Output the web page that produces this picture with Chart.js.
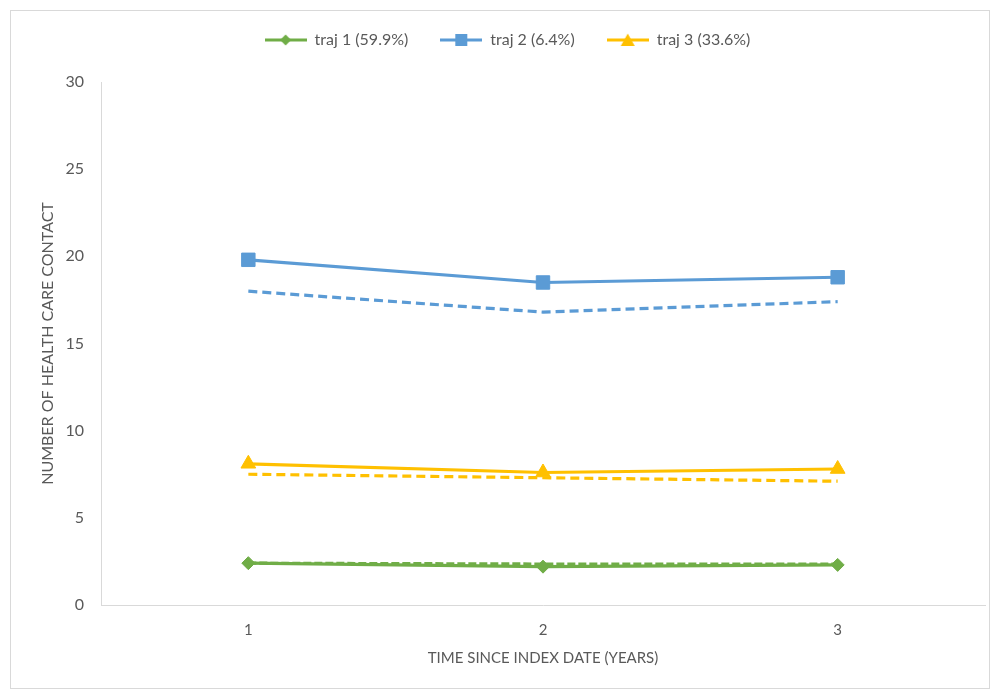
<!DOCTYPE html>
<html>
<head>
<meta charset="utf-8">
<title>Health care contacts by trajectory</title>
<script src="https://cdn.jsdelivr.net/npm/chart.js@4.4.1/dist/chart.umd.min.js"></script>
<style>
  html, body { margin: 0; padding: 0; background: #ffffff; }
  #wrap { position: relative; width: 999px; height: 690px; }
</style>
</head>
<body>
<div id="wrap"><canvas id="chart" width="999" height="690"></canvas></div>
<script>
// Years since index date
const years = ['1', '2', '3'];

// Observed trajectories (solid lines with markers)
const traj1Observed = [2.4, 2.2, 2.3];
const traj2Observed = [19.8, 18.5, 18.8];
const traj3Observed = [8.1, 7.6, 7.8];

// Predicted trajectories (dashed lines)
const traj1Predicted = [2.4, 2.35, 2.35];
const traj2Predicted = [18.0, 16.8, 17.4];
const traj3Predicted = [7.5, 7.3, 7.1];

const legendNames = ['traj 1 (59.9%)', 'traj 2 (6.4%)', 'traj 3 (33.6%)'];
const yTicks = [0, 5, 10, 15, 20, 25, 30];

const GREEN = '#70AD47';
const BLUE = '#5B9BD5';
const GOLD = '#FFC000';
const TEXT = '#595959';
const AXIS = '#D9D9D9';
const FONT = 'Lato, "Open Sans", sans-serif';

// Small legend swatch: a line with the series marker in its middle
function swatch(color, shape) {
  const c = document.createElement('canvas');
  c.width = 42; c.height = 16;
  const g = c.getContext('2d');
  g.strokeStyle = color; g.lineWidth = 3;
  g.beginPath(); g.moveTo(0, 8); g.lineTo(42, 8); g.stroke();
  g.fillStyle = color;
  g.beginPath();
  if (shape === 'diamond') {
    g.moveTo(21, 2.5); g.lineTo(26.5, 8); g.lineTo(21, 13.5); g.lineTo(15.5, 8);
  } else if (shape === 'square') {
    g.rect(15, 2, 12, 12);
  } else {
    g.moveTo(21, 1.5); g.lineTo(28, 14); g.lineTo(14, 14);
  }
  g.closePath(); g.fill();
  return c;
}
const swatches = [swatch(GREEN, 'diamond'), swatch(BLUE, 'square'), swatch(GOLD, 'triangle')];

function solid(label, data, color, style, radius) {
  return {
    label, data,
    borderColor: color, backgroundColor: color,
    borderWidth: 3.2,
    pointStyle: style, pointRadius: radius, pointBorderWidth: 1,
    pointBorderColor: color, pointBackgroundColor: color,
    tension: 0, fill: false
  };
}
function dashed(label, data, color, dash) {
  return {
    label, data,
    borderColor: color, backgroundColor: color,
    borderWidth: 3.2, borderDash: dash,
    pointRadius: 0, tension: 0, fill: false
  };
}

// White background and thin outer frame
const frame = {
  id: 'frame',
  beforeDraw(chart) {
    const ctx = chart.ctx;
    ctx.save();
    ctx.fillStyle = '#ffffff';
    ctx.fillRect(0, 0, chart.width, chart.height);
    ctx.strokeStyle = '#D9D9D9';
    ctx.lineWidth = 1;
    ctx.strokeRect(10.5, 10.5, 979, 678);
    ctx.restore();
  }
};

// Extra room below the legend row
const legendGap = {
  id: 'legendGap',
  afterInit(chart) {
    const lg = chart.legend;
    if (!lg) return;
    const fit = lg.fit.bind(lg);
    lg.fit = function () { fit(); this.height += 24; };
  }
};

new Chart(document.getElementById('chart'), {
  type: 'line',
  data: {
    labels: years,
    datasets: [
      dashed('traj 1 predicted', traj1Predicted, GREEN, [8, 3]),
      dashed('traj 2 predicted', traj2Predicted, BLUE, [9, 5]),
      dashed('traj 3 predicted', traj3Predicted, GOLD, [9, 5]),
      solid(legendNames[0], traj1Observed, GREEN, 'rectRot', 6.5),
      solid(legendNames[1], traj2Observed, BLUE, 'rect', 9.5),
      solid(legendNames[2], traj3Observed, GOLD, 'triangle', 8.5)
    ]
  },
  options: {
    responsive: false,
    animation: false,
    layout: { padding: { left: 30, right: 14, top: 0, bottom: 23 } },
    plugins: {
      tooltip: { enabled: false },
      legend: {
        position: 'top',
        labels: {
          color: TEXT,
          font: { family: FONT, size: 16 },
          usePointStyle: true,
          pointStyleWidth: 42,
          boxHeight: 16,
          padding: 32,
          generateLabels() {
            return legendNames.map((name, i) => ({
              text: name,
              fillStyle: 'transparent',
              strokeStyle: 'transparent',
              lineWidth: 0,
              pointStyle: swatches[i],
              fontColor: TEXT,
              hidden: false,
              datasetIndex: 3 + i
            }));
          }
        }
      }
    },
    scales: {
      x: {
        offset: true,
        grid: { display: false, drawTicks: false },
        border: { color: AXIS, width: 1 },
        ticks: { color: TEXT, font: { family: FONT, size: 15 }, padding: 16 },
        title: {
          display: true, text: 'TIME SINCE INDEX DATE (YEARS)',
          color: TEXT, font: { family: FONT, size: 15 }, padding: { top: 8, bottom: 0 }
        },
        afterFit(scale) { scale.height = 62; }
      },
      y: {
        min: 0, max: 30,
        afterBuildTicks(scale) { scale.ticks = yTicks.map(v => ({ value: v })); },
        grid: { display: false, drawTicks: false },
        border: { color: AXIS, width: 1 },
        ticks: { color: TEXT, font: { family: FONT, size: 16 }, padding: 17 },
        title: {
          display: true, text: 'NUMBER OF HEALTH CARE CONTACT',
          color: TEXT, font: { family: FONT, size: 16 }, padding: { top: 8, bottom: 0 }
        },
        afterFit(scale) { scale.width = 71; }
      }
    }
  },
  plugins: [frame, legendGap]
});
</script>
</body>
</html>
